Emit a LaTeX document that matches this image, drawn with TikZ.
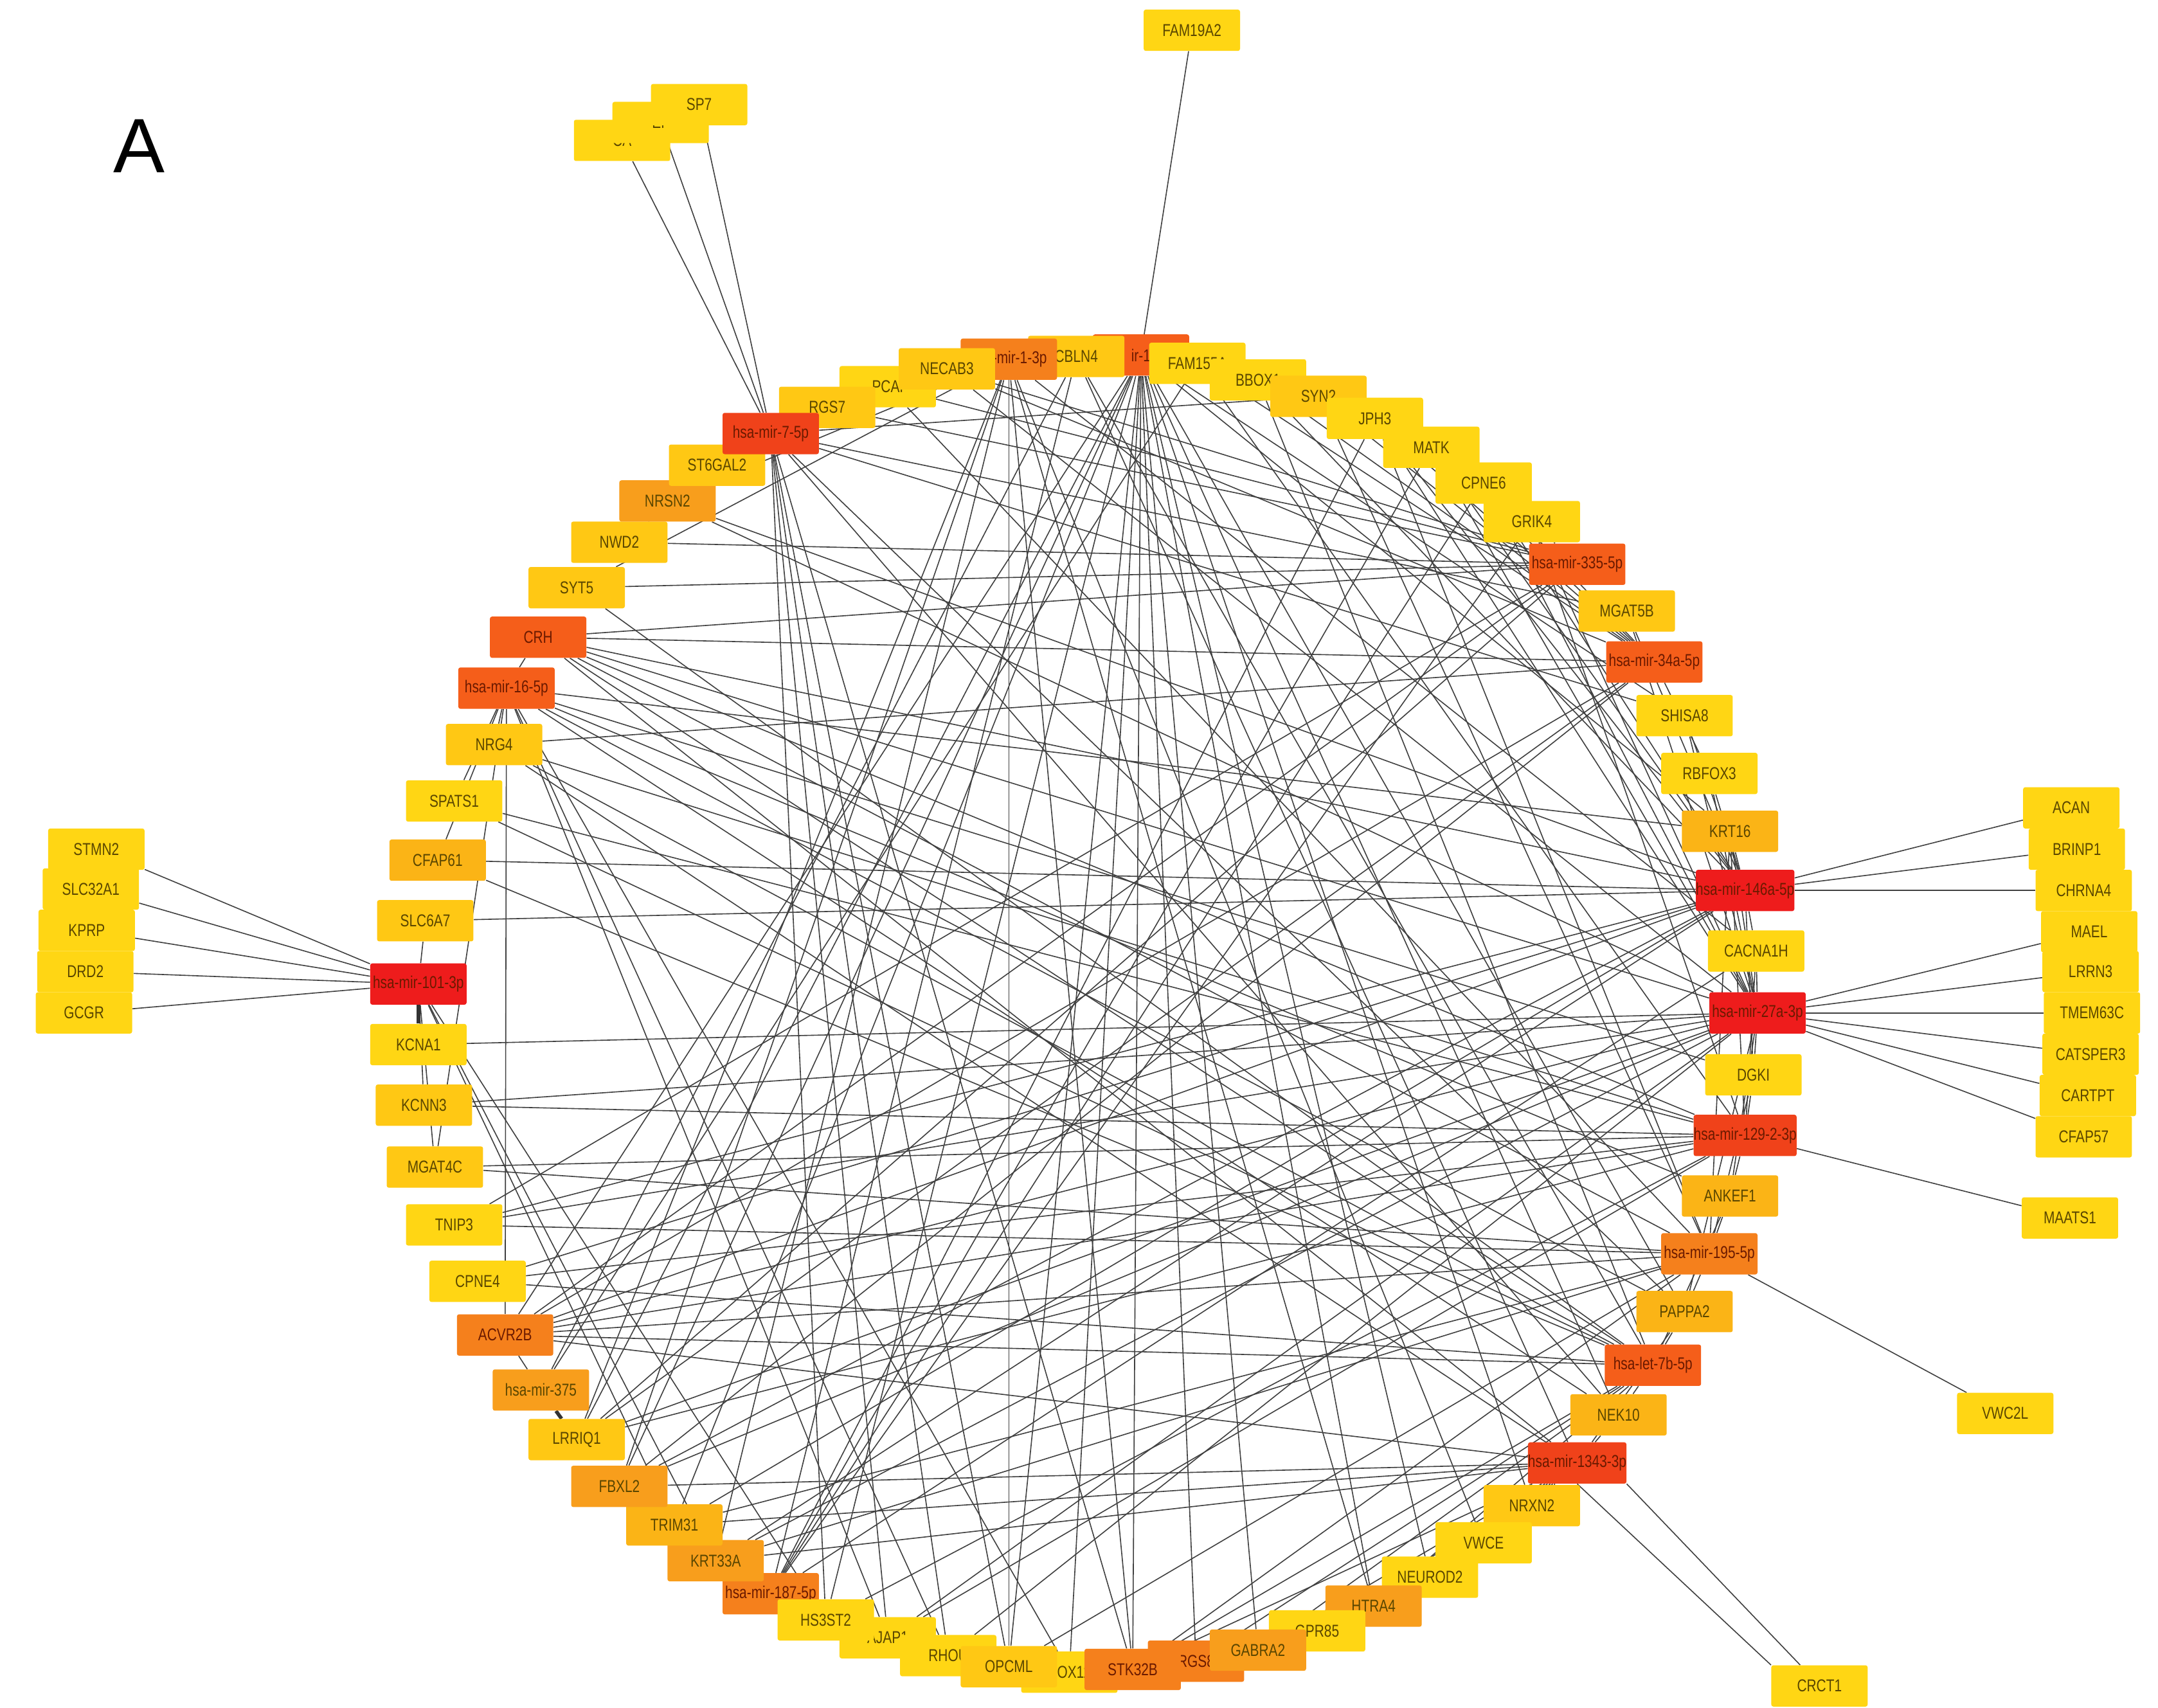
\documentclass[tikz,border=0pt]{standalone}
\usepackage{fontspec}
\usetikzlibrary{backgrounds}
\newfontfamily\nodelblfont{Liberation Sans}[FakeStretch=0.78]
\newfontfamily\bigAfont{Liberation Sans}
\newcommand\nodelbl{\nodelblfont\fontsize{12.5}{13}\selectfont}
\definecolor{cY}{HTML}{FFD614}
\definecolor{cYb}{HTML}{FFC814}
\definecolor{cYc}{HTML}{FBB416}
\definecolor{cOa}{HTML}{F89E1C}
\definecolor{cOb}{HTML}{F5801C}
\definecolor{cRa}{HTML}{F55E1A}
\definecolor{cRb}{HTML}{F0421A}
\definecolor{cRc}{HTML}{EE1C1C}
\definecolor{txtY}{HTML}{5A4600}
\definecolor{txtR}{HTML}{6B1A00}
\definecolor{edgec}{HTML}{404040}
\tikzset{
  nb/.style={rectangle, rounded corners=1.5pt, minimum width=70pt, minimum height=30pt, inner sep=0pt, fill=#1, text=txtY, font=\nodelbl},
  nr/.style={nb=#1, text=txtR},
  edge/.style={draw=edgec, line width=0.75pt},
  thickedge/.style={draw=edgec!80!black, line width=2.6pt},
}
\begin{document}
\begin{tikzpicture}[x=1pt,y=-1pt]
\useasboundingbox (0,0) rectangle (1568,1241);
\node[font=\bigAfont\fontsize{56}{60}\selectfont] (lblA) at (101,106) {A};
% outer nodes
\node[nb=cY] (fam19a2) at (866,22) {FAM19A2};
\node[nb=cY] (ca) at (452,102) {CA\hspace{31pt}};
\node[nb=cY] (ef) at (480,89) {EF\hspace{26pt}};
\node[nb=cY] (sp7) at (508,76) {SP7};
\node[nb=cY] (stmn2) at (70,617) {STMN2};
\node[nb=cY] (slc32a1) at (66,646) {SLC32A1};
\node[nb=cY] (kprp) at (63,676) {KPRP};
\node[nb=cY] (drd2) at (62,706) {DRD2};
\node[nb=cY] (gcgr) at (61,736) {GCGR};
\node[nb=cY] (acan) at (1505,587) {ACAN};
\node[nb=cY] (brinp1) at (1509,617) {BRINP1};
\node[nb=cY] (chrna4) at (1514,647) {CHRNA4};
\node[nb=cY] (mael) at (1518,677) {MAEL};
\node[nb=cY] (lrrn3) at (1519,706) {LRRN3};
\node[nb=cY] (tmem63c) at (1520,736) {TMEM63C};
\node[nb=cY] (catsper3) at (1519,766) {CATSPER3};
\node[nb=cY] (cartpt) at (1517,796) {CARTPT};
\node[nb=cY] (cfap57) at (1514,826) {CFAP57};
\node[nb=cY] (maats1) at (1504,885) {MAATS1};
\node[nb=cY] (vwc2l) at (1457,1027) {VWC2L};
\node[nb=cY] (crct1) at (1322,1225) {CRCT1};
% circle - top
\node[nr=cRa] (m124) at (829,258) {ir-1\hspace{10pt}};
\node[nb=cYb] (cbln4) at (782,259) {CBLN4};
\node[nr=cOb] (m1) at (733,261) {hsa-mir-1-3p};
\node[nb=cY] (pca) at (645,281) {PCAI};
\node[nb=cYb] (necab3) at (688,268) {NECAB3};
\node[nb=cYb] (rgs7) at (601,296) {RGS7};
% right
\node[nb=cY] (fam155a) at (870,264) {FAM155A};
\node[nb=cY] (bbox) at (914,276) {BBOX1};
\node[nb=cYb] (syn) at (958,288) {SYN2};
\node[nb=cY] (jph3) at (999,304) {JPH3};
\node[nb=cY] (matk) at (1040,325) {MATK};
\node[nb=cY] (cpne6) at (1078,351) {CPNE6};
\node[nb=cY] (grik4) at (1113,379) {GRIK4};
\node[nr=cRa] (m335) at (1146,410) {hsa-mir-335-5p};
\node[nb=cYb] (mgat5b) at (1182,444) {MGAT5B};
\node[nr=cRa] (m34a) at (1202,481) {hsa-mir-34a-5p};
\node[nb=cY] (shisa8) at (1224,520) {SHISA8};
\node[nb=cY] (rbfox3) at (1242,562) {RBFOX3};
\node[nb=cYc] (krt16) at (1257,604) {KRT16};
\node[nr=cRc] (m146a) at (1268,647) {hsa-mir-146a-5p};
\node[nb=cY] (cacna1h) at (1276,691) {CACNA1H};
\node[nr=cRc] (m27a) at (1277,736) {hsa-mir-27a-3p};
\node[nb=cY] (dgki) at (1274,781) {DGKI};
\node[nr=cRb] (m129) at (1268,825) {hsa-mir-129-2-3p};
\node[nb=cYc] (ankef1) at (1257,869) {ANKEF1};
\node[nr=cOb] (m195) at (1242,911) {hsa-mir-195-5p};
\node[nb=cYc] (pappa2) at (1224,953) {PAPPA2};
\node[nr=cRa] (let7b) at (1201,992) {hsa-let-7b-5p};
\node[nb=cYc] (nek10) at (1176,1028) {NEK10};
\node[nr=cRb] (m1343) at (1146,1063) {hsa-mir-1343-3p};
\node[nb=cYb] (nrxn2) at (1113,1094) {NRXN2};
\node[nb=cY] (vwce) at (1078,1121) {VWCE};
\node[nb=cY] (neurod2) at (1039,1146) {NEUROD2};
\node[nb=cOa] (htra4) at (998,1167) {HTRA4};
\node[nb=cY] (gpr85) at (957,1185) {GPR85};
% bottom
\node[nb=cY] (sox) at (777,1215) {SOX11};
\node[nr=cOb] (rgs) at (869,1207) {RGS8};
\node[nb=cOa] (gabra2) at (914,1199) {GABRA2};
\node[nr=cOb] (stk32b) at (823,1213) {STK32B};
\node[nb=cY] (ajap) at (645,1190) {AJAP1};
\node[nb=cY] (rh) at (689,1203) {RHOU};
\node[nb=cYb] (opcml) at (733,1211) {OPCML};
\node[nr=cOb] (m187) at (560,1158) {hsa-mir-187-5p};
\node[nb=cY] (hs3st2) at (600,1177) {HS3ST2};
\node[nb=cOa] (krt33a) at (520,1134) {KRT33A};
\node[nb=cYc] (trim31) at (490,1108) {TRIM31};
\node[nb=cOa] (fbxl2) at (450,1080) {FBXL2};
\node[nb=cYb] (lrriq1) at (419,1046) {LRRIQ1};
\node[nb=cOa] (m375) at (393,1010) {hsa-mir-375};
\node[nr=cOb] (acvr2b) at (367,970) {ACVR2B};
\node[nb=cY] (cpne4) at (347,931) {CPNE4};
\node[nb=cY] (tnip3) at (330,890) {TNIP3};
\node[nb=cYb] (mgat4c) at (316,848) {MGAT4C};
\node[nb=cYb] (kcnn3) at (308,803) {KCNN3};
\node[nb=cY] (kcna1) at (304,759) {KCNA1};
\node[nr=cRc] (m101) at (304,715) {hsa-mir-101-3p};
\node[nb=cYb] (slc6a7) at (309,669) {SLC6A7};
\node[nb=cYc] (cfap61) at (318,625) {CFAP61};
\node[nb=cY] (spats1) at (330,582) {SPATS1};
\node[nb=cYb] (nrg4) at (359,541) {NRG4};
\node[nr=cRa] (m16) at (368,500) {hsa-mir-16-5p};
\node[nr=cRa] (crh) at (391,463) {CRH};
\node[nb=cYb] (syt5) at (419,427) {SYT5};
\node[nb=cYb] (nwd2) at (450,394) {NWD2};
\node[nb=cOa] (nrsn2) at (485,364) {NRSN2};
\node[nb=cYb] (st6gal2) at (521,338) {ST6GAL2};
\node[nr=cRb] (m7) at (560,315) {hsa-mir-7-5p};

\begin{scope}[on background layer]
\fill[white] (0,0) rectangle (1568,1241);
\foreach \m/\g in {
 m101/stmn2, m101/slc32a1, m101/kprp, m101/drd2, m101/gcgr, m101/slc6a7, m101/kcnn3, m101/krt33a, m101/hs3st2, m101/mgat4c, m101/trim31,
 m16/crh, m16/nrg4, m16/spats1, m16/cfap61, m16/acvr2b, m16/rh, m16/ajap, m16/sox, m16/pappa2, m16/dgki, m16/nek10, m16/ankef1, m16/mgat4c, m16/krt16,
 m7/ca, m7/ef, m7/sp7, m7/st6gal2, m7/nrsn2, m7/nwd2, m7/rh, m7/opcml, m7/ajap, m7/hs3st2, m7/stk32b, m7/nek10, m7/pappa2, m7/mgat5b, m7/shisa8, m7/syn,
 m1/nrsn2, m1/syt5, m1/fbxl2, m1/krt33a, m1/opcml, m1/stk32b, m1/htra4, m1/vwce, m1/cacna1h, m1/lrriq1,
 m124/fam19a2, m124/lrriq1, m124/fbxl2, m124/acvr2b, m124/hs3st2, m124/sox, m124/stk32b, m124/rgs, m124/gabra2, m124/htra4, m124/neurod2, m124/nrxn2, m124/nek10, m124/pappa2, m124/krt16, m124/shisa8, m124/trim31, m124/opcml,
 m335/syt5, m335/crh, m335/nwd2, m335/pca, m335/necab3, m335/grik4, m335/acvr2b, m335/lrriq1, m335/tnip3, m335/rgs7,
 m34a/crh, m34a/acvr2b, m34a/lrriq1, m34a/nrg4, m34a/jph3, m34a/matk, m34a/cpne6, m34a/necab3, m34a/fam155a, m34a/bbox, m34a/syn, m34a/rbfox3, m34a/fbxl2,
 m146a/acan, m146a/brinp1, m146a/chrna4, m146a/slc6a7, m146a/cfap61, m146a/crh, m146a/krt16, m146a/rbfox3, m146a/shisa8, m146a/mgat5b, m146a/jph3, m146a/matk, m146a/bbox, m146a/cpne6, m146a/tnip3, m146a/cpne4, m146a/acvr2b, m146a/fbxl2, m146a/trim31, m146a/krt33a, m146a/cacna1h, m146a/dgki, m146a/nrsn2,
 m27a/mael, m27a/lrrn3, m27a/tmem63c, m27a/catsper3, m27a/cartpt, m27a/cfap57, m27a/kcna1, m27a/kcnn3, m27a/tnip3, m27a/crh, m27a/nrsn2, m27a/cacna1h, m27a/dgki, m27a/krt16, m27a/rbfox3, m27a/shisa8, m27a/mgat5b, m27a/grik4, m27a/cpne6, m27a/matk, m27a/jph3, m27a/acvr2b, m27a/lrriq1, m27a/fbxl2, m27a/krt33a, m27a/ajap, m27a/rh, m27a/ankef1, m27a/pappa2, m27a/necab3,
 m129/maats1, m129/kcnn3, m129/mgat4c, m129/crh, m129/nrg4, m129/spats1, m129/dgki, m129/ankef1, m129/cacna1h, m129/krt16, m129/grik4, m129/acvr2b, m129/cpne4, m129/lrriq1, m129/hs3st2, m129/ajap, m129/fam155a,
 m195/vwc2l, m195/mgat4c, m195/tnip3, m195/crh, m195/ankef1, m195/pappa2, m195/dgki, m195/krt16, m195/syn, m195/jph3, m195/acvr2b, m195/krt33a, m195/trim31, m195/opcml, m195/stk32b, m195/pca,
 let7b/pappa2, let7b/nek10, let7b/ankef1, let7b/crh, let7b/syt5, let7b/nrg4, let7b/spats1, let7b/cfap61, let7b/acvr2b, let7b/cpne4, let7b/stk32b, let7b/gabra2, let7b/rgs, let7b/htra4, let7b/bbox, let7b/cbln4,
 m1343/nek10, m1343/nrxn2, m1343/trim31, m1343/fbxl2, m1343/vwce, m1343/neurod2, m1343/htra4, m1343/acvr2b, m1343/krt33a, m1343/crh, m1343/nrg4, m1343/gpr85, m1343/gabra2, m1343/stk32b, m1343/pappa2, m1343/cbln4,
 m187/krt33a, m187/hs3st2, m187/cacna1h, m187/cpne6, m187/matk, m187/grik4, m187/jph3, m187/cbln4,
 m375/acvr2b, m375/fam155a, m375/cbln4}
  \draw[edge] (\m) -- (\g);
\draw[thickedge] (m101) -- (kcna1);
\draw[thickedge] (m375) -- (lrriq1);
\draw[edge] (m1343.south) -- (crct1.north west);
\draw[edge] (m1343.south east) -- ([xshift=-14pt]crct1.north);
\end{scope}
\end{tikzpicture}
\end{document}
